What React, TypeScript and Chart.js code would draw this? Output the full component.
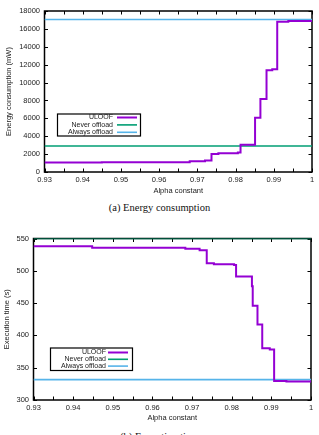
import React, { useEffect, useRef } from "react";
import { Chart, registerables } from "chart.js";

Chart.register(...registerables);

// ---- shared x axis (alpha constant) ----
const alphaTickValues = [0.93, 0.94, 0.95, 0.96, 0.97, 0.98, 0.99, 1.0];
const alphaTickLabels = ["0.93", "0.94", "0.95", "0.96", "0.97", "0.98", "0.99", "1"];
const alphaMinorTicks = [0.935, 0.945, 0.955, 0.965, 0.975, 0.985, 0.995];

// ---- energy consumption (mW) ----
const energyTickValues = [0, 2000, 4000, 6000, 8000, 10000, 12000, 14000, 16000, 18000];
const energyTickLabels = ["0", "2000", "4000", "6000", "8000", "10000", "12000", "14000", "16000", "18000"];
const energyAlpha = [0.93, 0.945, 0.968, 0.972, 0.9737, 0.9755, 0.9806, 0.9813, 0.9851, 0.9865, 0.9881, 0.9896, 0.9909, 0.9938, 1.0];
const energyUloof = [1050, 1100, 1200, 1280, 2010, 2100, 2180, 3050, 6070, 8160, 11370, 11500, 16790, 16880, 16880];
const energyNeverOffload = 2900;
const energyAlwaysOffload = 17050;

// ---- execution time (s) ----
const timeTickValues = [300, 350, 400, 450, 500, 550];
const timeTickLabels = ["300", "350", "400", "450", "500", "550"];
const timeAlpha = [0.93, 0.9448, 0.9683, 0.9719, 0.9737, 0.9755, 0.9806, 0.9811, 0.9851, 0.9853, 0.9865, 0.9877, 0.9896, 0.9907, 0.9938, 1.0];
const timeUloof = [538, 535.5, 534, 532, 511.5, 510, 509, 491, 476, 446, 417, 380, 378, 329.5, 328.5, 328.5];
const timeNeverOffload = 550;
const timeAlwaysOffload = 331.5;

const seriesNames = ["ULOOF", "Never offload", "Always offload"];
const seriesColors = ["#9400d3", "#009e73", "#56b4e9"];
const seriesWidths = [2, 1.6, 1.6];

const SANS = "'Liberation Sans', Arial, Helvetica, sans-serif";
const TEXT = "#222";

// gnuplot-style frame with inward ticks on all four sides
const framePlugin = {
  id: "gpFrame",
  beforeDatasetsDraw(chart: any, _a: any, opts: any) {
    const { ctx, chartArea } = chart;
    const { left, right, top, bottom } = chartArea;
    const xs = chart.scales.x;
    const ys = chart.scales.y;
    const len = 3.5;
    ctx.save();
    ctx.strokeStyle = "#000";
    ctx.lineWidth = 1;
    ctx.beginPath();
    const xt = [...alphaTickValues, ...alphaMinorTicks];
    for (const v of xt) {
      const px = Math.round(xs.getPixelForValue(v)) + 0.5;
      ctx.moveTo(px, bottom);
      ctx.lineTo(px, bottom - len);
      ctx.moveTo(px, top);
      ctx.lineTo(px, top + len);
    }
    for (const v of opts.yTicks as number[]) {
      const py = Math.round(ys.getPixelForValue(v)) + 0.5;
      ctx.moveTo(left, py);
      ctx.lineTo(left + len, py);
      ctx.moveTo(right, py);
      ctx.lineTo(right - len, py);
    }
    ctx.stroke();
    ctx.lineWidth = 1.5;
    ctx.strokeRect(left, top, right - left, bottom - top);
    ctx.restore();
  },
};

// key box: right-aligned titles followed by line samples
const keyPlugin = {
  id: "gpKey",
  afterDatasetsDraw(chart: any, _a: any, opts: any) {
    if (!opts || !opts.box) return;
    const { ctx } = chart;
    const b = opts.box;
    ctx.save();
    ctx.fillStyle = "#fff";
    ctx.fillRect(b.x, b.y, b.w, b.h);
    ctx.strokeStyle = "#000";
    ctx.lineWidth = 1.2;
    ctx.strokeRect(b.x, b.y, b.w, b.h);
    ctx.font = `7px ${SANS}`;
    ctx.textAlign = "right";
    ctx.textBaseline = "middle";
    chart.data.datasets.forEach((ds: any, i: number) => {
      const ry = b.y + b.firstRow + i * b.rowStep;
      ctx.fillStyle = TEXT;
      ctx.fillText(ds.label, b.textRight, ry);
      ctx.strokeStyle = ds.borderColor;
      ctx.lineWidth = ds.borderWidth;
      ctx.beginPath();
      ctx.moveTo(b.lineFrom, ry);
      ctx.lineTo(b.lineTo, ry);
      ctx.stroke();
    });
    ctx.restore();
  },
};

type PanelProps = {
  xs: number[];
  uloof: number[];
  never: number;
  always: number;
  yMin: number;
  yMax: number;
  yTicks: number[];
  yLabels: string[];
  yTitle: string;
  width: number;
  height: number;
  yAxisWidth: number;
  padRight: number;
  padTop: number;
  yTitlePad: number;
  xTitlePad: number;
  keyBox: any;
};

function Panel(p: PanelProps) {
  const ref = useRef<HTMLCanvasElement | null>(null);
  useEffect(() => {
    if (!ref.current) return;
    const lo = p.xs[0];
    const hi = p.xs[p.xs.length - 1];
    const chart = new Chart(ref.current, {
      type: "line",
      data: {
        datasets: [
          {
            label: seriesNames[0],
            data: p.xs.map((x, i) => ({ x, y: p.uloof[i] })),
            borderColor: seriesColors[0],
            borderWidth: seriesWidths[0],
            stepped: "before",
            pointRadius: 0,
            fill: false,
          },
          {
            label: seriesNames[1],
            data: [{ x: lo, y: p.never }, { x: hi, y: p.never }],
            borderColor: seriesColors[1],
            borderWidth: seriesWidths[1],
            pointRadius: 0,
            fill: false,
          },
          {
            label: seriesNames[2],
            data: [{ x: lo, y: p.always }, { x: hi, y: p.always }],
            borderColor: seriesColors[2],
            borderWidth: seriesWidths[2],
            pointRadius: 0,
            fill: false,
          },
        ],
      },
      options: {
        responsive: false,
        animation: false,
        devicePixelRatio: 1,
        layout: { padding: { left: 0, right: p.padRight, top: p.padTop, bottom: 0 } },
        plugins: {
          legend: { display: false },
          tooltip: { enabled: false },
          gpFrame: { yTicks: p.yTicks },
          gpKey: { box: p.keyBox },
        } as any,
        scales: {
          x: {
            type: "linear",
            min: 0.93,
            max: 1.0,
            grid: { display: false, drawTicks: false },
            border: { display: false },
            afterBuildTicks: (s: any) => {
              s.ticks = alphaTickValues.map((v) => ({ value: v }));
            },
            afterFit: (s: any) => {
              s.height = 28;
            },
            ticks: {
              autoSkip: false,
              maxRotation: 0,
              padding: 3,
              color: TEXT,
              font: { family: SANS, size: 7.5 },
              callback: (_v: any, i: number) => alphaTickLabels[i],
            },
            title: {
              display: true,
              text: "Alpha constant",
              color: TEXT,
              font: { family: SANS, size: 7.5 },
              padding: { top: 0, bottom: p.xTitlePad },
            },
          },
          y: {
            type: "linear",
            min: p.yMin,
            max: p.yMax,
            grid: { display: false, drawTicks: false },
            border: { display: false },
            afterBuildTicks: (s: any) => {
              s.ticks = p.yTicks.map((v) => ({ value: v }));
            },
            afterFit: (s: any) => {
              s.width = p.yAxisWidth;
            },
            ticks: {
              autoSkip: false,
              padding: 4.5,
              color: TEXT,
              font: { family: SANS, size: 7.5 },
              callback: (_v: any, i: number) => p.yLabels[i],
            },
            title: {
              display: true,
              text: p.yTitle,
              color: TEXT,
              font: { family: SANS, size: 7.5 },
              padding: { top: p.yTitlePad, bottom: 0 },
            },
          },
        },
      },
      plugins: [framePlugin, keyPlugin],
    } as any);
    return () => chart.destroy();
  }, []);
  return (
    <canvas
      ref={ref}
      width={p.width}
      height={p.height}
      style={{ display: "block", width: p.width, height: p.height }}
    />
  );
}

const captionStyle: React.CSSProperties = {
  position: "absolute",
  left: 0,
  width: 319,
  textAlign: "center",
  fontFamily: "'Liberation Serif', 'Times New Roman', serif",
  fontSize: 10.5,
  color: "#111",
  lineHeight: "12px",
  whiteSpace: "nowrap",
};

export default function App() {
  return (
    <div
      style={{
        position: "fixed",
        left: 0,
        top: 0,
        width: 319,
        height: 435,
        overflow: "hidden",
        background: "#fff",
      }}
    >
      <div style={{ position: "absolute", left: 0, top: 0 }}>
        <Panel
          xs={energyAlpha}
          uloof={energyUloof}
          never={energyNeverOffload}
          always={energyAlwaysOffload}
          yMin={0}
          yMax={18000}
          yTicks={energyTickValues}
          yLabels={energyTickLabels}
          yTitle="Energy consumption (mW)"
          width={319}
          height={200}
          yAxisWidth={44.5}
          padRight={7}
          padTop={11}
          yTitlePad={4.5}
          xTitlePad={4.5}
          keyBox={{ x: 57.5, y: 114, w: 83, h: 22, firstRow: 3.5, rowStep: 7.4, textRight: 113, lineFrom: 117, lineTo: 137 }}
        />
      </div>
      <div style={{ ...captionStyle, top: 202 }}>(a) Energy consumption</div>
      <div style={{ position: "absolute", left: 0, top: 227 }}>
        <Panel
          xs={timeAlpha}
          uloof={timeUloof}
          never={timeNeverOffload}
          always={timeAlwaysOffload}
          yMin={300}
          yMax={550}
          yTicks={timeTickValues}
          yLabels={timeTickLabels}
          yTitle="Execution time (s)"
          width={319}
          height={201}
          yAxisWidth={33.5}
          padRight={8}
          padTop={11.5}
          yTitlePad={2.8}
          xTitlePad={5.5}
          keyBox={{ x: 50.5, y: 121, w: 82, h: 22.5, firstRow: 4.5, rowStep: 6.8, textRight: 106, lineFrom: 108, lineTo: 128 }}
        />
      </div>
      <div style={{ ...captionStyle, top: 431 }}>(b) Execution time</div>
    </div>
  );
}
